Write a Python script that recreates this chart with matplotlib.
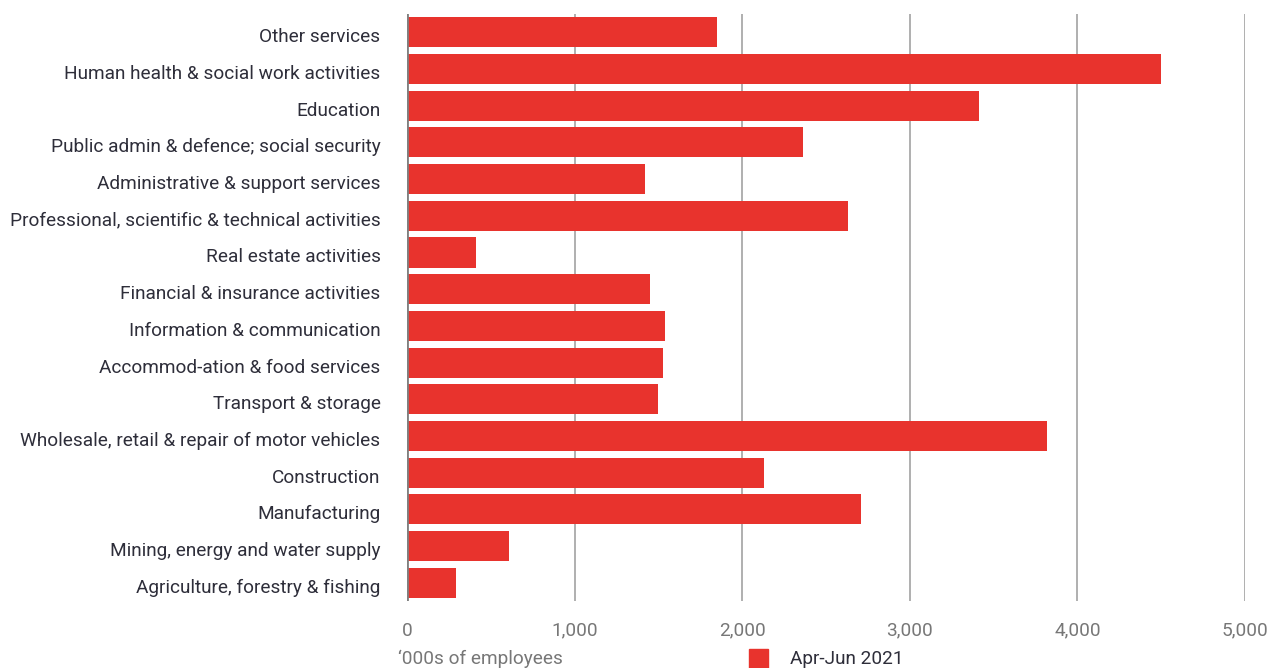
import matplotlib.pyplot as plt
from matplotlib.patches import Rectangle
from matplotlib.transforms import ScaledTranslation

# categories top to bottom as shown in the chart
sectors = [
    'Other services',
    'Human health & social work activities',
    'Education',
    'Public admin & defence; social security',
    'Administrative & support services',
    'Professional, scientific & technical activities',
    'Real estate activities',
    'Financial & insurance activities',
    'Information & communication',
    'Accommod-ation & food services',
    'Transport & storage',
    'Wholesale, retail & repair of motor vehicles',
    'Construction',
    'Manufacturing',
    'Mining, energy and water supply',
    'Agriculture, forestry & fishing',
]
employees = [1850, 4500, 3410, 2360, 1420, 2630, 410, 1450,
             1540, 1530, 1500, 3820, 2130, 2710, 610, 290]
x_ticks = [0, 1000, 2000, 3000, 4000, 5000]
series_name = 'Apr-Jun 2021'

red = '#e8332d'
label_col = '#2e2e3a'
tick_col = '#777777'
fs = 13.7

plt.rcParams['font.family'] = ['Roboto', 'DejaVu Sans']

fig = plt.figure(figsize=(12.69, 6.68), dpi=100)
ax = fig.add_axes([0.3207, 0.1003, 0.6604, 0.8787])

pos = list(range(len(sectors)))[::-1]
ax.barh(pos, employees, height=0.82, color=red, zorder=3)

ax.set_xlim(0, 5000)
ax.set_ylim(-0.5, len(sectors) - 0.5)
ax.set_xticks(x_ticks)
ax.set_xticklabels([f'{v:,}' for v in x_ticks])
ax.set_yticks(pos)
ax.set_yticklabels(sectors)

ax.tick_params(axis='y', length=0, pad=19, labelsize=fs, labelcolor=label_col)
ax.tick_params(axis='x', length=0, pad=15, labelsize=fs, labelcolor=tick_col)

# nudge category labels down a little, like the original
shift = ScaledTranslation(0, -3 / 100, fig.dpi_scale_trans)
for lab in ax.get_yticklabels():
    lab.set_transform(lab.get_transform() + shift)

for v in x_ticks[1:]:
    ax.axvline(v, color='#9a9a9a', lw=1.1, zorder=1)
ax.axvline(0, color='#808080', lw=2, zorder=4)

for s in ax.spines.values():
    s.set_visible(False)

fig.text(398 / 1269, 1 - 659 / 668, "\u2018000s of employees", fontsize=fs,
         color=tick_col, va='center', ha='left')

fig.patches.append(Rectangle((749 / 1269, 0), 19 / 1269, 19 / 668,
                             transform=fig.transFigure, color=red))
fig.text(790 / 1269, 1 - 659 / 668, series_name, fontsize=fs,
         color=label_col, va='center', ha='left')

fig.savefig('out.png', dpi=100)
